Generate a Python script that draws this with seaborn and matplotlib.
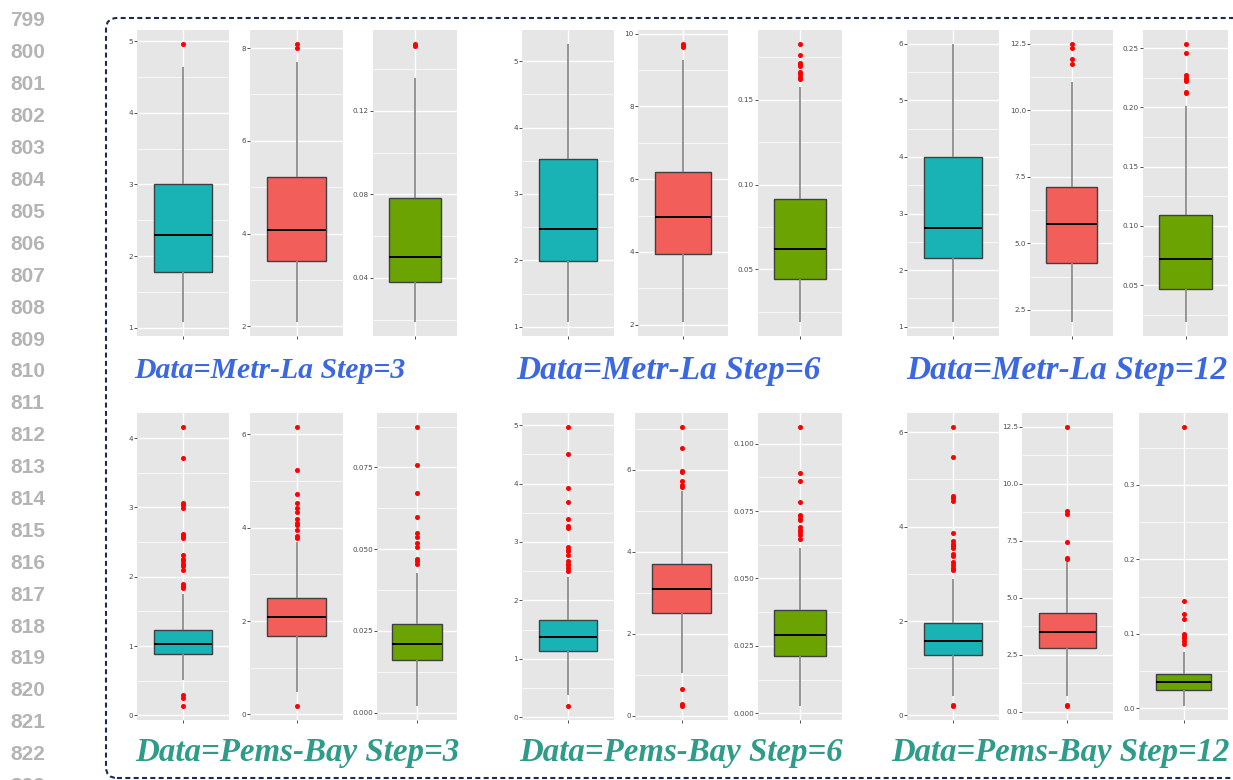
import numpy as np
import pandas as pd
import matplotlib
matplotlib.use("Agg")
import matplotlib.pyplot as plt
import seaborn as sns
from matplotlib.patches import FancyBboxPatch
from matplotlib.transforms import IdentityTransform

# ---------------- data ----------------
datasets = ["Metr-La", "Pems-Bay"]
steps = [3, 6, 12]
metrics = ["MAE", "RMSE", "MAPE"]
metric_colors = ["#19B3B6", "#F25F5B", "#6BA402"]
title_colors = ["#3B68E0", "#2F9C8A"]
line_numbers = list(range(799, 824))

# order of the six groups: Metr-La 3, 6, 12, Pems-Bay 3, 6, 12
mae_low = [1.08, 1.07, 1.08, 0.505, 0.371, 0.416]
mae_q1 = [1.78, 1.99, 2.22, 0.889, 1.131, 1.288]
mae_med = [2.30, 2.47, 2.75, 1.034, 1.371, 1.570]
mae_q3 = [3.00, 3.52, 4.00, 1.236, 1.663, 1.958]
mae_high = [4.64, 5.26, 6.00, 1.745, 2.40, 2.88]
mae_out = [
    [4.96],
    [],
    [],
    [4.16, 3.71, 3.06, 3.04, 2.99, 2.62, 2.59, 2.56, 2.32, 2.25, 2.23, 2.18, 2.15,
     2.10, 1.89, 1.87, 1.84, 0.30, 0.25, 0.135],
    [4.97, 4.50, 3.93, 3.69, 3.39, 3.27, 3.24, 2.91, 2.87, 2.84, 2.78, 2.67, 2.63,
     2.60, 2.55, 2.51, 0.19],
    [6.11, 5.48, 4.64, 4.60, 4.54, 3.86, 3.69, 3.64, 3.59, 3.54, 3.41, 3.38, 3.24,
     3.19, 3.13, 3.08, 0.23, 0.20],
]
mae_ticks = [
    ["1", "2", "3", "4", "5"],
    ["1", "2", "3", "4", "5"],
    ["1", "2", "3", "4", "5", "6"],
    ["0", "1", "2", "3", "4"],
    ["0", "1", "2", "3", "4", "5"],
    ["0", "2", "4", "6"],
]

rmse_low = [2.09, 2.07, 2.04, 0.486, 1.054, 0.67]
rmse_q1 = [3.41, 3.95, 4.25, 1.68, 2.511, 2.80]
rmse_med = [4.07, 4.97, 5.72, 2.09, 3.087, 3.52]
rmse_q3 = [5.23, 6.20, 7.13, 2.50, 3.716, 4.32]
rmse_high = [7.69, 9.29, 11.05, 3.70, 5.497, 6.56]
rmse_out = [
    [8.09, 8.00],
    [9.72, 9.69, 9.64],
    [12.50, 12.35, 11.92, 11.75],
    [6.16, 5.24, 4.73, 4.52, 4.43, 4.34, 4.19, 4.10, 4.06, 3.96, 3.82, 3.79, 0.18],
    [7.05, 6.53, 5.97, 5.94, 5.72, 5.64, 5.58, 0.65, 0.29, 0.24],
    [12.50, 8.80, 8.66, 7.43, 6.73, 6.69, 0.31, 0.25],
]
rmse_ticks = [
    ["2", "4", "6", "8"],
    ["2", "4", "6", "8", "10"],
    ["2.5", "5.0", "7.5", "10.0", "12.5"],
    ["0", "2", "4", "6"],
    ["0", "2", "4", "6"],
    ["0.0", "2.5", "5.0", "7.5", "10.0", "12.5"],
]

mape_low = [0.0188, 0.0189, 0.0189, 0.0020, 0.0027, 0.0031]
mape_q1 = [0.0381, 0.0443, 0.0472, 0.0160, 0.0213, 0.0250]
mape_med = [0.0502, 0.0619, 0.0724, 0.0211, 0.0290, 0.0349]
mape_q3 = [0.0783, 0.0912, 0.1095, 0.0272, 0.0383, 0.0459]
mape_high = [0.1359, 0.1574, 0.2011, 0.0426, 0.0614, 0.0760]
mape_out = [
    [0.1521, 0.1512],
    [0.1829, 0.1766, 0.1715, 0.1708, 0.1696, 0.1662, 0.1649, 0.1633, 0.1625],
    [0.2536, 0.2458, 0.2270, 0.2250, 0.2235, 0.2220, 0.2132, 0.2118],
    [0.0874, 0.0757, 0.0673, 0.0598, 0.0548, 0.0536, 0.0520, 0.0507, 0.0469,
     0.0465, 0.0455],
    [0.1062, 0.0892, 0.0861, 0.0782, 0.0737, 0.0730, 0.0722, 0.0716, 0.0690,
     0.0681, 0.0673, 0.0660, 0.0647],
    [0.3778, 0.1443, 0.1264, 0.1197, 0.1004, 0.0973, 0.0942, 0.0906, 0.0862],
]
mape_ticks = [
    ["0.04", "0.08", "0.12"],
    ["0.05", "0.10", "0.15"],
    ["0.05", "0.10", "0.15", "0.20", "0.25"],
    ["0.000", "0.025", "0.050", "0.075"],
    ["0.000", "0.025", "0.050", "0.075", "0.100"],
    ["0.0", "0.1", "0.2", "0.3"],
]

summary = {
    "MAE": (mae_low, mae_q1, mae_med, mae_q3, mae_high, mae_out, mae_ticks),
    "RMSE": (rmse_low, rmse_q1, rmse_med, rmse_q3, rmse_high, rmse_out, rmse_ticks),
    "MAPE": (mape_low, mape_q1, mape_med, mape_q3, mape_high, mape_out, mape_ticks),
}

# ---------------- layout (pixels) ----------------
W, H = 1233, 780
row_y = [(30, 336), (413, 720)]
panel_x = [
    [[(137, 229), (250, 343), (373, 457)],
     [(522, 614), (638, 728), (758, 842)],
     [(907, 999), (1030, 1113), (1143, 1228)]],
    [[(137, 229), (250, 343), (377, 457)],
     [(522, 614), (635, 728), (758, 842)],
     [(907, 999), (1022, 1113), (1139, 1228)]],
]
title_cx = [[270, 669, 1067], [297, 681, 1060]]
title_cy = [370, 752]
title_size = [[21.4, 24.0, 24.0], [23.8, 23.7, 23.6]]

REP = 200  # weight of the quartile values so that outliers do not move them


def box_frame(lo, q1, med, q3, hi, outs):
    vals = [lo] + [q1] * REP + [med] * REP + [q3] * REP + [hi] + list(outs)
    return pd.DataFrame({"value": vals})


fig = plt.figure(figsize=(W / 100, H / 100), dpi=100)
fig.patch.set_facecolor("white")

for r in range(2):
    for c in range(3):
        g = r * 3 + c
        for m, name in enumerate(metrics):
            lo, q1, med, q3, hi, outs, ticks = summary[name]
            x0, x1 = panel_x[r][c][m]
            y0, y1 = row_y[r]
            ax = fig.add_axes([x0 / W, 1 - y1 / H, (x1 - x0) / W, (y1 - y0) / H])
            ax.set_facecolor("#E6E6E6")
            df = box_frame(lo[g], q1[g], med[g], q3[g], hi[g], outs[g])
            sns.boxplot(
                data=df, y="value", ax=ax, color=metric_colors[m], width=0.75,
                saturation=1, showcaps=False, linewidth=1.0, linecolor="#3c3c3c",
                whiskerprops=dict(color="#8c8c8c", linewidth=1.3),
                medianprops=dict(color="black", linewidth=1.4),
                boxprops=dict(edgecolor="#404040", linewidth=1.0),
                flierprops=dict(marker="o", markerfacecolor="#FF0000",
                                markeredgecolor="#FF0000", markersize=2.6),
            )
            allv = df["value"]
            vmin, vmax = allv.min(), allv.max()
            pad = (vmax - vmin) * 0.05
            ax.set_ylim(vmin - pad, vmax + pad)
            ax.set_xlim(-0.6, 0.6)
            tv = [float(t) for t in ticks[g]]
            ax.set_yticks(tv)
            ax.set_yticklabels(ticks[g])
            step = tv[1] - tv[0]
            minors = [tv[0] - step / 2] + [(a + b) / 2 for a, b in zip(tv[:-1], tv[1:])] + [tv[-1] + step / 2]
            lo_lim, hi_lim = ax.get_ylim()
            ax.set_yticks([v for v in minors if lo_lim < v < hi_lim], minor=True)
            ax.set_xticks([0])
            ax.set_xticklabels([""])
            ax.set_xlabel("")
            ax.set_ylabel("")
            ax.set_axisbelow(True)
            ax.grid(True, which="major", color="white", linewidth=1.0)
            ax.grid(True, which="minor", axis="y", color="white", linewidth=0.5)
            for s in ax.spines.values():
                s.set_visible(False)
            ax.tick_params(axis="both", which="major", length=2, width=0.6,
                           color="#333333", labelsize=5.2, labelcolor="#4D4D4D", pad=1)
            ax.tick_params(axis="y", which="minor", length=0)
        fig.text(title_cx[r][c] / W, 1 - title_cy[r] / H,
                 f"Data={datasets[r]} Step={steps[c]}",
                 ha="center", va="center", fontsize=title_size[r][c], fontweight="bold",
                 fontstyle="italic", family="Liberation Serif", color=title_colors[r])

# line numbers down the left margin
for i, n in enumerate(line_numbers):
    fig.text(10 / W, 1 - (21 + 31.9 * i) / H, str(n), ha="left", va="center",
             fontsize=15, fontweight="bold", family="Liberation Sans", color="#B4B4B4")

# dashed rounded frame
frame = FancyBboxPatch((106, 2), 1300, H - 2 - 18,
                       boxstyle="round,pad=0,rounding_size=11",
                       fill=False, edgecolor="#1D2B4F", linewidth=1.5,
                       linestyle=(0, (2.4, 1.6)), transform=IdentityTransform())
fig.add_artist(frame)

fig.savefig("out.png", dpi=100, facecolor="white")
